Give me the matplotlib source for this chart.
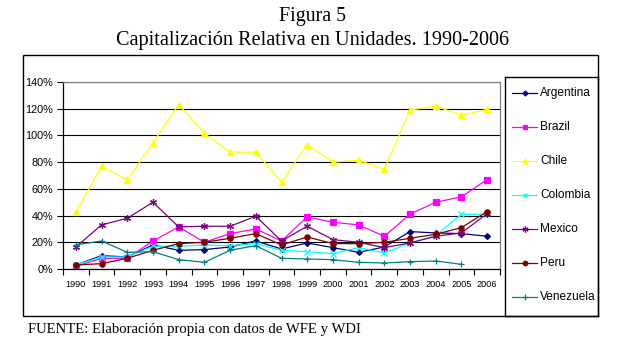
import numpy as np
import matplotlib
matplotlib.use("Agg")
import matplotlib.pyplot as plt
from matplotlib.patches import Rectangle
from matplotlib.lines import Line2D
from matplotlib.ticker import FuncFormatter

# datos (fracción de capitalización relativa)
years = [str(y) for y in range(1990, 2007)]

argentina = [0.03, 0.10, 0.09, 0.18, 0.14, 0.145, 0.165, 0.21, 0.15, 0.195, 0.16, 0.125, 0.165, 0.28, 0.27, 0.265, 0.245]
brazil = [0.02, 0.08, 0.08, 0.21, 0.315, 0.20, 0.265, 0.30, 0.21, 0.39, 0.35, 0.33, 0.245, 0.41, 0.50, 0.54, 0.67]
chile = [0.425, 0.77, 0.665, 0.945, 1.23, 1.015, 0.875, 0.875, 0.65, 0.93, 0.80, 0.815, 0.745, 1.19, 1.22, 1.15, 1.195]
colombia = [0.03, 0.09, 0.09, 0.17, 0.17, 0.18, 0.175, 0.19, 0.14, 0.13, 0.115, 0.16, 0.12, 0.195, 0.25, 0.41, 0.41]
mexico = [0.165, 0.33, 0.38, 0.50, 0.315, 0.32, 0.32, 0.395, 0.21, 0.32, 0.22, 0.20, 0.16, 0.195, 0.245, 0.27, 0.415]
peru = [0.03, 0.04, 0.08, 0.14, 0.19, 0.20, 0.23, 0.265, 0.18, 0.24, 0.19, 0.19, 0.20, 0.23, 0.26, 0.31, 0.43]
venezuela = [0.18, 0.21, 0.125, 0.13, 0.07, 0.05, 0.14, 0.175, 0.08, 0.075, 0.07, 0.05, 0.045, 0.055, 0.06, 0.035, np.nan]

series = [
    ("Argentina", argentina, "#000080", "D", 3),
    ("Brazil", brazil, "#FF00FF", "s", 3.8),
    ("Chile", chile, "#FFFF00", "^", 4.2),
    ("Colombia", colombia, "#00FFFF", "x", 4),
    ("Mexico", mexico, "#800080", (6, 2, 0), 5),
    ("Peru", peru, "#800000", "o", 3.8),
    ("Venezuela", venezuela, "#008080", "+", 5),
]

W, H = 625, 358
fig = plt.figure(figsize=(W / 100, H / 100), dpi=100)


def px(x0, y0, x1, y1):
    # caja en pixeles (origen arriba-izquierda) -> fracción de figura
    return [x0 / W, 1 - y1 / H, (x1 - x0) / W, (y1 - y0) / H]


sans = "Liberation Sans"
serif = "Liberation Serif"

# marco exterior del gráfico
fig.add_artist(Rectangle((23 / W, 1 - 316 / H), 575 / W, 261 / H, transform=fig.transFigure,
                         fill=False, edgecolor="black", linewidth=1))

ax = fig.add_axes(px(63, 82, 500, 269))
x = np.arange(len(years))
for name, vals, color, marker, ms in series:
    ax.plot(x, vals, color=color, marker=marker, markersize=ms, linewidth=0.9,
            markeredgewidth=0.9, markerfacecolor=color, markeredgecolor=color, label=name)

ax.set_xlim(-0.5, len(years) - 0.5)
ax.set_ylim(0, 1.4)
ax.set_yticks(np.arange(0, 1.41, 0.2))
ax.yaxis.set_major_formatter(FuncFormatter(lambda v, p: f"{v * 100:.0f}%"))
ax.set_xticks(x)
ax.set_xticklabels(years)
ax.set_xticks(np.arange(-0.5, len(years), 1), minor=True)
ax.tick_params(axis="x", which="major", length=0, pad=8, labelsize=6.6)
ax.tick_params(axis="x", which="minor", length=4, width=0.8, direction="out")
ax.tick_params(axis="y", length=4, width=0.8, direction="out", pad=3, labelsize=7.8)
for lab in ax.get_xticklabels() + ax.get_yticklabels():
    lab.set_fontfamily(sans)
ax.grid(axis="y", color="black", linewidth=0.8)
ax.set_axisbelow(True)
ax.spines["left"].set_color("black")
ax.spines["bottom"].set_color("black")
ax.spines["top"].set_color("#808080")
ax.spines["right"].set_color("#808080")
for s in ax.spines.values():
    s.set_linewidth(0.9)

# leyenda en su propio recuadro
lax = fig.add_axes(px(505, 77, 598, 316))
lax.set_xlim(505, 598)
lax.set_ylim(316, 77)
lax.set_xticks([])
lax.set_yticks([])
for s in lax.spines.values():
    s.set_linewidth(1)
    s.set_color("black")
leg_y = [93, 127, 161, 195, 229, 263, 297]
for (name, vals, color, marker, ms), yy in zip(series, leg_y):
    lax.add_line(Line2D([512, 537], [yy, yy], color=color, linewidth=0.9))
    lax.plot([524.5], [yy], marker=marker, markersize=ms * 0.85, color=color, markeredgewidth=0.9)
    lax.text(540, yy, name, fontsize=8.6, fontfamily=sans, va="center", ha="left")

fig.text(0.5, 1 - 17 / H, "Figura 5", ha="center", va="center", fontsize=14.3, fontfamily=serif)
fig.text(0.5, 1 - 40 / H, "Capitalización Relativa en Unidades. 1990-2006", ha="center", va="center",
         fontsize=14.6, fontfamily=serif)
fig.text(28 / W, 1 - 329 / H, "FUENTE: Elaboración propia con datos de WFE y WDI", ha="left", va="center",
         fontsize=10.6, fontfamily=serif)

fig.savefig("out.png", dpi=100)
